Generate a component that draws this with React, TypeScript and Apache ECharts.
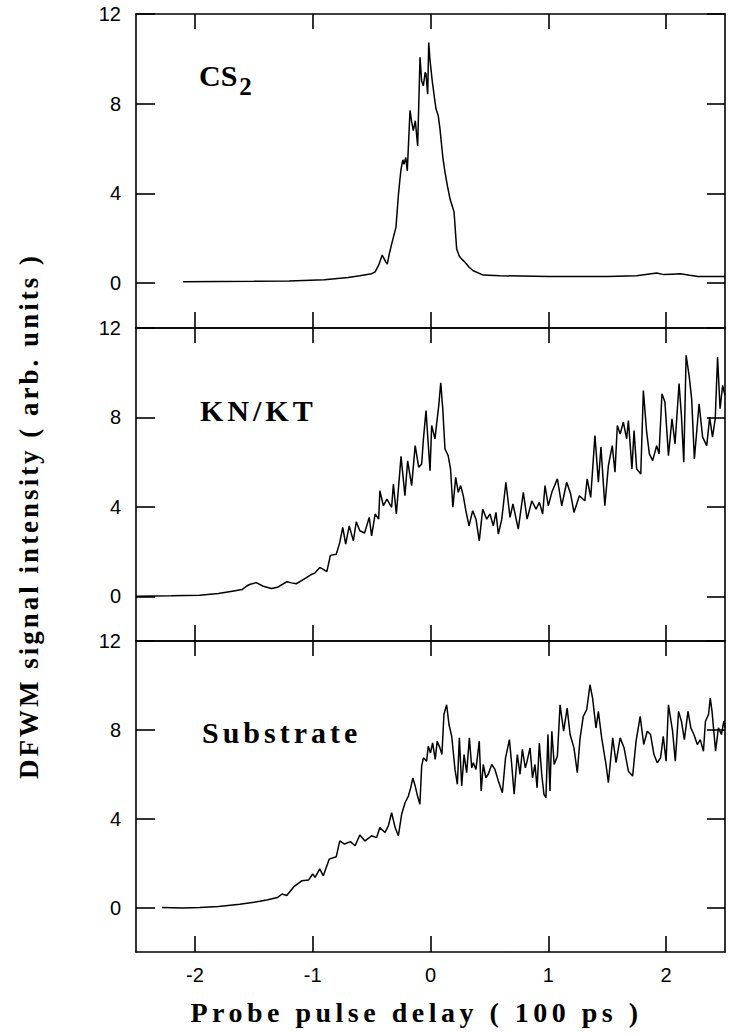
import React, { useEffect, useRef } from "react";
import * as echarts from "echarts";

// ---- data (x: probe delay in 100 ps, y: DFWM intensity, arb. units) ----
const cs2Data: number[][] = [
  [-2.1, 0.06], [-1.8, 0.07], [-1.5, 0.08], [-1.2, 0.1], [-0.9, 0.15], [-0.7, 0.25], [-0.6, 0.33],
  [-0.5, 0.42], [-0.47, 0.5], [-0.44, 0.8], [-0.41, 1.25], [-0.38, 0.95], [-0.367, 0.85], [-0.35, 1.3],
  [-0.33, 1.74], [-0.293, 2.5], [-0.273, 3.9], [-0.26, 4.6], [-0.25, 5.08], [-0.235, 5.5], [-0.225, 5.3],
  [-0.21, 5.6], [-0.197, 5.0], [-0.174, 7.7], [-0.16, 7.2], [-0.146, 6.8], [-0.129, 7.24], [-0.109, 6.12],
  [-0.089, 10.07], [-0.075, 9.0], [-0.061, 8.8], [-0.045, 9.4], [-0.038, 9.32], [-0.024, 8.43],
  [-0.015, 10.73], [-0.005, 10.0], [0.004, 9.54], [0.015, 9.0], [0.024, 8.65], [0.035, 8.2], [0.047, 7.76],
  [0.066, 7.46], [0.08, 6.9], [0.089, 6.42], [0.105, 5.6], [0.123, 4.95], [0.145, 4.3], [0.166, 3.75],
  [0.2, 3.17], [0.222, 1.52], [0.245, 1.2], [0.265, 1.07], [0.293, 0.93], [0.33, 0.7], [0.363, 0.55],
  [0.448, 0.36], [0.59, 0.33], [1.0, 0.3], [1.5, 0.3], [1.75, 0.33], [1.92, 0.45], [1.98, 0.38],
  [2.05, 0.4], [2.12, 0.42], [2.2, 0.35], [2.27, 0.3], [2.5, 0.3],
];

const knktData: number[][] = [
  [-2.5, 0.0], [-2.2, 0.02], [-1.96, 0.05], [-1.8, 0.12], [-1.67, 0.24], [-1.6, 0.3], [-1.56, 0.46],
  [-1.53, 0.54], [-1.48, 0.61], [-1.42, 0.45], [-1.35, 0.35], [-1.3, 0.4], [-1.22, 0.65], [-1.18, 0.6],
  [-1.14, 0.56], [-1.08, 0.75], [-1.02, 0.95], [-0.98, 1.05], [-0.94, 1.29], [-0.91, 1.2], [-0.88, 1.1],
  [-0.85, 1.83], [-0.8, 1.88], [-0.77, 2.41], [-0.745, 3.08], [-0.72, 2.33], [-0.69, 3.15], [-0.655, 2.48],
  [-0.63, 3.33], [-0.6, 2.93], [-0.56, 2.83], [-0.52, 3.53], [-0.5, 2.7], [-0.47, 3.68], [-0.44, 3.45],
  [-0.43, 4.72], [-0.4, 4.05], [-0.37, 4.35], [-0.33, 3.98], [-0.315, 5.02], [-0.29, 3.68], [-0.25, 6.26],
  [-0.217, 4.5], [-0.194, 6.06], [-0.16, 4.95], [-0.13, 6.74], [-0.1, 5.77], [-0.075, 5.92], [-0.06, 7.04],
  [-0.038, 8.31], [-0.024, 7.19], [-0.004, 5.62], [0.01, 7.64], [0.038, 7.04], [0.052, 7.71], [0.07, 8.53],
  [0.087, 9.55], [0.104, 8.39], [0.123, 6.59], [0.15, 6.29], [0.17, 5.7], [0.19, 3.98], [0.214, 5.32],
  [0.236, 4.65], [0.256, 4.95], [0.278, 4.5], [0.3, 3.83], [0.327, 3.15], [0.358, 3.83], [0.386, 3.45],
  [0.414, 2.48], [0.443, 3.9], [0.477, 3.45], [0.505, 3.68], [0.533, 3.15], [0.556, 3.75], [0.576, 2.78],
  [0.605, 3.45], [0.64, 5.1], [0.675, 3.53], [0.7, 4.13], [0.745, 3.0], [0.788, 4.65], [0.82, 3.45],
  [0.86, 4.27], [0.896, 3.9], [0.924, 4.2], [0.952, 3.68], [0.972, 4.95], [1.0, 4.05], [1.03, 4.65],
  [1.077, 5.25], [1.114, 4.05], [1.156, 5.1], [1.19, 4.57], [1.218, 3.75], [1.264, 4.5], [1.31, 4.27],
  [1.33, 5.25], [1.36, 4.42], [1.396, 7.19], [1.425, 5.1], [1.447, 6.67], [1.48, 4.05], [1.51, 5.84],
  [1.543, 6.74], [1.566, 5.55], [1.586, 7.64], [1.61, 7.26], [1.637, 7.79], [1.665, 7.04], [1.68, 7.86],
  [1.71, 5.7], [1.728, 7.41], [1.75, 5.7], [1.785, 5.47], [1.807, 9.2], [1.835, 7.34], [1.858, 6.37],
  [1.886, 6.07], [1.92, 6.74], [1.94, 6.37], [1.965, 9.06], [1.99, 8.69], [2.02, 6.29], [2.05, 7.94],
  [2.076, 6.82], [2.11, 9.51], [2.13, 8.09], [2.15, 6.0], [2.17, 10.78], [2.195, 9.88], [2.217, 8.83],
  [2.24, 6.14], [2.28, 8.61], [2.31, 7.12], [2.345, 6.74], [2.37, 8.0], [2.394, 7.12], [2.417, 7.94],
  [2.437, 10.7], [2.458, 8.39], [2.48, 9.43], [2.5, 8.98],
];

const substrateData: number[][] = [
  [-2.28, 0.0], [-2.1, -0.02], [-1.96, 0.0], [-1.8, 0.05], [-1.62, 0.15], [-1.45, 0.28], [-1.39, 0.34],
  [-1.3, 0.45], [-1.26, 0.61], [-1.22, 0.54], [-1.16, 0.94], [-1.09, 1.21], [-1.035, 1.24], [-1.0, 1.51],
  [-0.98, 1.36], [-0.94, 1.74], [-0.91, 1.43], [-0.86, 2.18], [-0.8, 2.29], [-0.77, 3.0], [-0.73, 2.86],
  [-0.68, 2.97], [-0.64, 2.78], [-0.6, 3.27], [-0.556, 3.0], [-0.5, 3.23], [-0.457, 3.15], [-0.43, 3.6],
  [-0.386, 3.38], [-0.358, 3.68], [-0.33, 4.27], [-0.3, 3.6], [-0.273, 3.23], [-0.245, 4.2], [-0.216, 4.72],
  [-0.188, 5.02], [-0.168, 5.39], [-0.15, 5.84], [-0.13, 5.47], [-0.11, 5.02], [-0.09, 4.65], [-0.075, 6.37],
  [-0.06, 6.74], [-0.033, 6.59], [-0.019, 7.26], [0.0, 6.96], [0.018, 7.41], [0.04, 6.67], [0.057, 7.49],
  [0.08, 7.19], [0.097, 6.89], [0.114, 8.69], [0.137, 9.13], [0.157, 8.24], [0.18, 7.71], [0.208, 6.22],
  [0.228, 5.55], [0.245, 7.64], [0.265, 5.47], [0.285, 6.89], [0.307, 6.07], [0.33, 7.64], [0.35, 6.29],
  [0.364, 6.52], [0.386, 6.22], [0.414, 7.49], [0.43, 5.25], [0.448, 6.44], [0.47, 5.84], [0.49, 6.0],
  [0.52, 6.44], [0.547, 6.22], [0.576, 5.7], [0.61, 5.17], [0.637, 6.74], [0.67, 7.56], [0.688, 6.52],
  [0.71, 5.1], [0.737, 6.89], [0.76, 6.0], [0.78, 7.12], [0.805, 6.29], [0.82, 6.59], [0.845, 7.19],
  [0.866, 5.84], [0.887, 6.44], [0.905, 5.39], [0.924, 7.41], [0.944, 6.0], [0.963, 5.1], [0.98, 4.95],
  [0.997, 7.79], [1.014, 5.25], [1.03, 7.94], [1.05, 6.44], [1.077, 6.82], [1.1, 9.13], [1.13, 7.94],
  [1.16, 8.98], [1.185, 7.79], [1.218, 7.19], [1.246, 6.07], [1.27, 7.64], [1.297, 8.61], [1.326, 8.91],
  [1.354, 10.03], [1.376, 9.43], [1.405, 8.09], [1.425, 8.83], [1.453, 7.64], [1.49, 6.44], [1.51, 5.62],
  [1.547, 7.64], [1.575, 6.52], [1.61, 7.64], [1.643, 7.19], [1.68, 6.14], [1.716, 5.92], [1.745, 7.49],
  [1.78, 8.61], [1.81, 7.34], [1.84, 7.94], [1.868, 7.79], [1.897, 6.89], [1.925, 6.52], [1.953, 6.74],
  [1.976, 7.71], [2.0, 6.59], [2.02, 9.13], [2.055, 7.94], [2.078, 6.59], [2.106, 8.83], [2.13, 8.39],
  [2.155, 7.56], [2.186, 8.83], [2.21, 8.09], [2.236, 7.79], [2.265, 7.34], [2.29, 7.56], [2.317, 7.04],
  [2.334, 8.39], [2.36, 8.69], [2.375, 9.43], [2.39, 8.83], [2.42, 7.04], [2.444, 8.09], [2.47, 7.79],
  [2.49, 8.39], [2.5, 8.09],
];

const xTickValues = [-2, -1, 0, 1, 2];
const yTickValues = [0, 4, 8, 12];
const panelSeries = [cs2Data, knktData, substrateData];
const panelNames = ["CS2", "KN/KT", "Substrate"];
const xTitle = "Probe pulse delay ( 100 ps )";
const yTitle = "DFWM signal intensity ( arb. units )";

// font stacks (the fallback names only serve to select a letter-spacing in CSS)
const SERIF_Y = '"Liberation Serif", "Times New Roman", serif';
const SERIF_PANEL = '"Liberation Serif", Times, serif';
const SERIF_X = '"Liberation Serif", Tinos, serif';
const SERIF_PLAIN = '"Liberation Serif", serif';
const SANS = '"Liberation Sans", Arial, sans-serif';

const css = `
.dfwm text[style*="Times New Roman"], .dfwm tspan[style*="Times New Roman"] { letter-spacing: 3px; }
.dfwm text[style*="Times, serif"], .dfwm tspan[style*="Times, serif"] { letter-spacing: 4px; }
.dfwm text[style*="Tinos"], .dfwm tspan[style*="Tinos"] { letter-spacing: 4.5px; }
`;

export default function App() {
  const ref = useRef<HTMLDivElement>(null);

  useEffect(() => {
    if (!ref.current) return;
    const chart = echarts.init(ref.current, null, { renderer: "svg" });

    const tops = [14, 328, 641];
    const heights = [314, 313, 311];
    const lineStyle = { color: "#000", width: 1.6 };

    const grids = tops.map((t, i) => ({ left: 136, right: 6, top: t, height: heights[i] }));
    const xAxes: any[] = [];
    const yAxes: any[] = [];
    tops.forEach((_, i) => {
      const isBottom = i === 2;
      xAxes.push({
        type: "value", gridIndex: i, position: "bottom", min: -2.5, max: 2.5,
        axisLine: { show: true, onZero: false, lineStyle },
        axisTick: { show: true, inside: true, length: 16, customValues: xTickValues, lineStyle },
        axisLabel: {
          show: isBottom, customValues: xTickValues, margin: 13, color: "#000",
          fontSize: 20, fontFamily: SANS,
        },
        splitLine: { show: false },
        name: isBottom ? xTitle : "",
        nameLocation: "middle",
        nameGap: 46,
        nameTextStyle: { fontFamily: SERIF_X, fontWeight: "bold", fontSize: 28, color: "#000", padding: [0, 28, 0, 0] },
      });
      xAxes.push({
        type: "value", gridIndex: i, position: "top", min: -2.5, max: 2.5,
        axisLine: { show: true, onZero: false, lineStyle },
        axisTick: { show: true, inside: true, length: 15, customValues: xTickValues, lineStyle },
        axisLabel: { show: false },
        splitLine: { show: false },
      });
      yAxes.push({
        type: "value", gridIndex: i, position: "left", min: -2, max: 12,
        axisLine: { show: true, onZero: false, lineStyle },
        axisTick: { show: true, inside: true, length: 19, customValues: yTickValues, lineStyle },
        axisLabel: { show: true, customValues: yTickValues, margin: 15, color: "#000", fontSize: 20, fontFamily: SANS },
        splitLine: { show: false },
      });
      yAxes.push({
        type: "value", gridIndex: i, position: "right", min: -2, max: 12,
        axisLine: { show: true, onZero: false, lineStyle },
        axisTick: { show: true, inside: true, length: 18, customValues: yTickValues, lineStyle },
        axisLabel: { show: false },
        splitLine: { show: false },
      });
    });

    const series = panelSeries.map((d, i) => ({
      type: "line", name: panelNames[i], xAxisIndex: 2 * i, yAxisIndex: 2 * i,
      data: d, showSymbol: false, symbol: "none", clip: true,
      lineStyle: { color: "#000", width: 1.5 }, z: 3,
    }));

    const labelStyle = { fontFamily: SERIF_PANEL, fontWeight: "bold", fontSize: 30, fill: "#000" };

    chart.setOption({
      animation: false,
      backgroundColor: "#fff",
      grid: grids,
      xAxis: xAxes,
      yAxis: yAxes,
      series,
      graphic: [
        {
          type: "text", x: 199, y: 60, z: 10,
          style: {
            text: "{m|CS}{s|2}", align: "left", verticalAlign: "top",
            rich: {
              m: { fontFamily: SERIF_PLAIN, fontWeight: "bold", fontSize: 30, lineHeight: 30, verticalAlign: "top", fill: "#000" },
              s: { fontFamily: SERIF_PLAIN, fontWeight: "bold", fontSize: 25, lineHeight: 25, verticalAlign: "top", padding: [14, 0, 0, 2], fill: "#000" },
            },
          },
        },
        { type: "text", x: 200, y: 410, z: 10, style: { ...labelStyle, text: panelNames[1], align: "left", verticalAlign: "middle" } },
        { type: "text", x: 202, y: 732, z: 10, style: { ...labelStyle, text: panelNames[2], align: "left", verticalAlign: "middle" } },
        {
          type: "text", x: 29, y: 516, rotation: Math.PI / 2, z: 10,
          style: { fontFamily: SERIF_Y, fontWeight: "bold", fontSize: 27, fill: "#000", text: yTitle, align: "center", verticalAlign: "middle" },
        },
      ],
    });

    return () => chart.dispose();
  }, []);

  return (
    <>
      <style>{css}</style>
      <div
        className="dfwm"
        ref={ref}
        style={{ position: "fixed", left: 0, top: 0, width: 731, height: 1035, background: "#fff" }}
      />
    </>
  );
}
